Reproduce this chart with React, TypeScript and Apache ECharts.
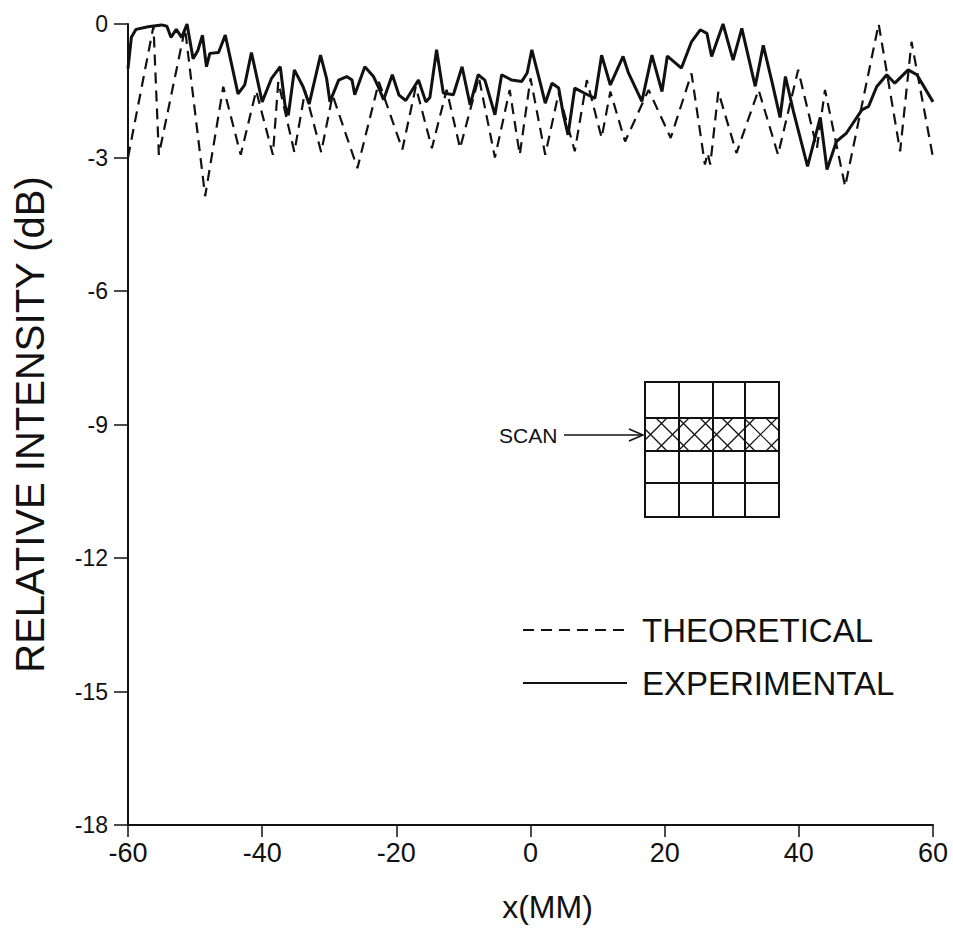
import React, { useEffect, useRef } from "react";
import * as echarts from "echarts";

// x (mm), relative intensity (dB)
const theoretical: [number, number][] = [
  [-60, -3.0], [-56.2, -0.05], [-55.4, -2.94], [-51.5, -0.1], [-48.5, -3.87],
  [-45.8, -1.41], [-43.2, -2.94], [-40.9, -1.5], [-38.4, -2.94], [-37.6, -1.3],
  [-35.2, -2.88], [-33.6, -1.5], [-31.2, -2.88], [-29.5, -1.6], [-25.8, -3.24],
  [-22.6, -1.3], [-19.1, -2.82], [-17.1, -1.41], [-14.7, -2.79], [-12.5, -1.48],
  [-10.5, -2.79], [-7.7, -1.2], [-5.3, -3.0], [-3.1, -1.48], [-1.6, -2.94],
  [0.0, -1.22], [2.2, -2.94], [4.2, -1.55], [6.6, -2.86], [8.4, -1.26],
  [10.6, -2.56], [11.9, -1.52], [14.1, -2.64], [17.6, -1.48], [20.9, -2.56],
  [24.0, -1.11], [26.0, -3.16], [26.4, -2.9], [26.8, -3.16], [28.0, -1.52],
  [30.7, -2.9], [34.0, -1.48], [36.9, -2.94], [39.9, -1.03], [42.7, -2.79],
  [43.9, -1.48], [46.9, -3.65], [51.9, 0.0], [55.1, -2.86], [56.8, -0.4],
  [60, -3.0],
];

const experimental: [number, number][] = [
  [-60, -1.0], [-59.5, -0.3], [-58.8, -0.12], [-57, -0.06], [-55, -0.02],
  [-54.2, -0.05], [-53.6, -0.3], [-52.8, -0.12], [-52.0, -0.3], [-51.2, 0.0],
  [-50.3, -0.78], [-49.6, -0.6], [-48.9, -0.25], [-48.3, -0.96], [-47.8, -0.66],
  [-46.5, -0.64], [-45.5, -0.25], [-43.6, -1.57], [-42.6, -1.37], [-41.6, -0.64],
  [-40.0, -1.75], [-38.6, -1.22], [-37.3, -0.96], [-36.6, -1.82], [-36.1, -2.05],
  [-35.2, -1.03], [-33.9, -1.41], [-33.0, -1.8], [-31.3, -0.7], [-30.4, -1.22],
  [-29.9, -1.75], [-28.6, -1.26], [-27.4, -1.18], [-26.6, -1.26], [-26.2, -1.59],
  [-24.7, -0.96], [-23.4, -1.18], [-22.7, -1.41], [-21.9, -1.7], [-20.6, -1.14],
  [-19.6, -1.6], [-18.6, -1.72], [-16.7, -1.26], [-15.6, -1.75], [-15.0, -1.65],
  [-14.0, -0.58], [-13.0, -1.55], [-11.5, -1.59], [-10.2, -0.96], [-9.0, -1.82],
  [-7.8, -1.14], [-6.8, -1.26], [-5.3, -2.04], [-4.3, -1.14], [-2.8, -1.26],
  [-1.3, -1.29], [-0.5, -1.1], [0.2, -0.58], [1.4, -1.29], [2.2, -1.78],
  [3.2, -1.33], [4.2, -1.44], [4.9, -2.04], [5.6, -2.49], [6.6, -1.44],
  [8.0, -1.55], [9.6, -1.67], [10.6, -0.7], [11.9, -1.37], [13.8, -0.73],
  [14.6, -1.1], [16.6, -1.74], [18.1, -0.7], [19.6, -1.52], [20.4, -0.72],
  [22.5, -0.99], [24.0, -0.4], [25.3, -0.13], [26.3, -0.21], [27.0, -0.73],
  [28.7, 0.0], [30.2, -0.81], [31.5, -0.1], [33.5, -1.4], [34.7, -0.48],
  [36.0, -1.3], [37.2, -2.1], [38.0, -1.18], [39.2, -1.97], [41.3, -3.2],
  [43.2, -2.1], [44.2, -3.27], [45.6, -2.64], [47.1, -2.45], [49.4, -1.93],
  [50.4, -1.85], [51.6, -1.41], [53.1, -1.14], [54.3, -1.33], [56.3, -1.03],
  [57.6, -1.14], [60, -1.75],
];

const seriesNames = ["THEORETICAL", "EXPERIMENTAL"];
const xAxisTitle = "x(MM)";
const yAxisTitle = "RELATIVE INTENSITY (dB)";
const insetLabel = "SCAN";

const INK = "#111";
const FONT = "'Liberation Sans', Arial, sans-serif";

function buildInset(): any[] {
  const x0 = 645, x1 = 779, y0 = 382, y1 = 517;
  const rows = [382, 418, 451, 483, 517];
  const cols = [645, 679, 713, 745, 779];
  const els: any[] = [];
  const ls = { stroke: INK, lineWidth: 2 };
  // hatch in second row
  const hy0 = rows[1], hy1 = rows[2], h = hy1 - hy0, d = 22;
  for (let x = x0 - h; x < x1; x += d) {
    const ta = Math.max(0, x0 - x), tb = Math.min(h, x1 - x);
    if (tb > ta) {
      els.push({ type: "line", shape: { x1: x + ta, y1: hy0 + ta, x2: x + tb, y2: hy0 + tb }, style: { stroke: INK, lineWidth: 1.2 } });
      els.push({ type: "line", shape: { x1: x + ta, y1: hy1 - ta, x2: x + tb, y2: hy1 - tb }, style: { stroke: INK, lineWidth: 1.2 } });
    }
  }
  els.push({ type: "rect", shape: { x: x0, y: y0, width: x1 - x0, height: y1 - y0 }, style: { fill: "none", ...ls } });
  rows.slice(1, -1).forEach((y) => els.push({ type: "line", shape: { x1: x0, y1: y, x2: x1, y2: y }, style: ls }));
  cols.slice(1, -1).forEach((x) => els.push({ type: "line", shape: { x1: x, y1: y0, x2: x, y2: y1 }, style: ls }));
  // arrow
  const ay = 435;
  els.push({ type: "line", shape: { x1: 564, y1: ay, x2: 643, y2: ay }, style: { stroke: INK, lineWidth: 1.5 } });
  els.push({ type: "polyline", shape: { points: [[629, ay - 6], [643, ay], [629, ay + 6]] }, style: { stroke: INK, lineWidth: 1.5, fill: "none" } });
  els.push({ type: "text", x: 499, y: ay, style: { text: insetLabel, fontSize: 21, fontFamily: FONT, fill: INK, verticalAlign: "middle", align: "left" } });
  return els;
}

export default function App() {
  const ref = useRef<HTMLDivElement>(null);
  useEffect(() => {
    if (!ref.current) return;
    const chart = echarts.init(ref.current, null, { renderer: "svg" });
    chart.setOption({
      animation: false,
      backgroundColor: "#fff",
      grid: { left: 128, right: 20, top: 24, bottom: 101 },
      xAxis: {
        type: "value", min: -60, max: 60, interval: 20,
        name: xAxisTitle, nameLocation: "middle", nameGap: 66,
        nameTextStyle: { fontSize: 32, color: INK, fontFamily: FONT, padding: [0, 0, 0, 34] },
        axisLine: { show: true, onZero: false, lineStyle: { color: INK, width: 2 } },
        axisTick: { show: true, length: 12, lineStyle: { color: INK, width: 1.5 } },
        axisLabel: { fontSize: 27, color: INK, fontFamily: FONT, margin: 14 },
        splitLine: { show: false },
      },
      yAxis: {
        type: "value", min: -18, max: 0, interval: 3,
        name: yAxisTitle, nameLocation: "middle", nameGap: 78,
        nameTextStyle: { fontSize: 40, color: INK, fontFamily: FONT },
        axisLine: { show: true, onZero: false, lineStyle: { color: INK, width: 2 } },
        axisTick: { show: true, length: 14, lineStyle: { color: INK, width: 1.5 } },
        axisLabel: { fontSize: 23, color: INK, fontFamily: FONT, margin: 20 },
        splitLine: { show: false },
      },
      legend: {
        orient: "vertical", left: 517, top: 608, itemWidth: 104, itemHeight: 14, itemGap: 19,
        data: seriesNames,
        itemStyle: { color: "transparent", borderColor: "transparent", borderWidth: 0 },
        textStyle: { fontSize: 33, lineHeight: 34, color: INK, fontFamily: FONT, padding: [0, 0, 0, 10] },
      },
      series: [
        {
          name: seriesNames[0], type: "line", data: theoretical, symbol: "none", showSymbol: false,
          lineStyle: { color: INK, width: 2.2, type: [11, 7] }, itemStyle: { color: INK },
        },
        {
          name: seriesNames[1], type: "line", data: experimental, symbol: "none", showSymbol: false,
          lineStyle: { color: INK, width: 3 }, itemStyle: { color: INK },
        },
      ],
      graphic: buildInset(),
    });
    return () => chart.dispose();
  }, []);
  return <div ref={ref} style={{ position: "fixed", left: 0, top: 0, width: 953, height: 928, background: "#fff" }} />;
}
